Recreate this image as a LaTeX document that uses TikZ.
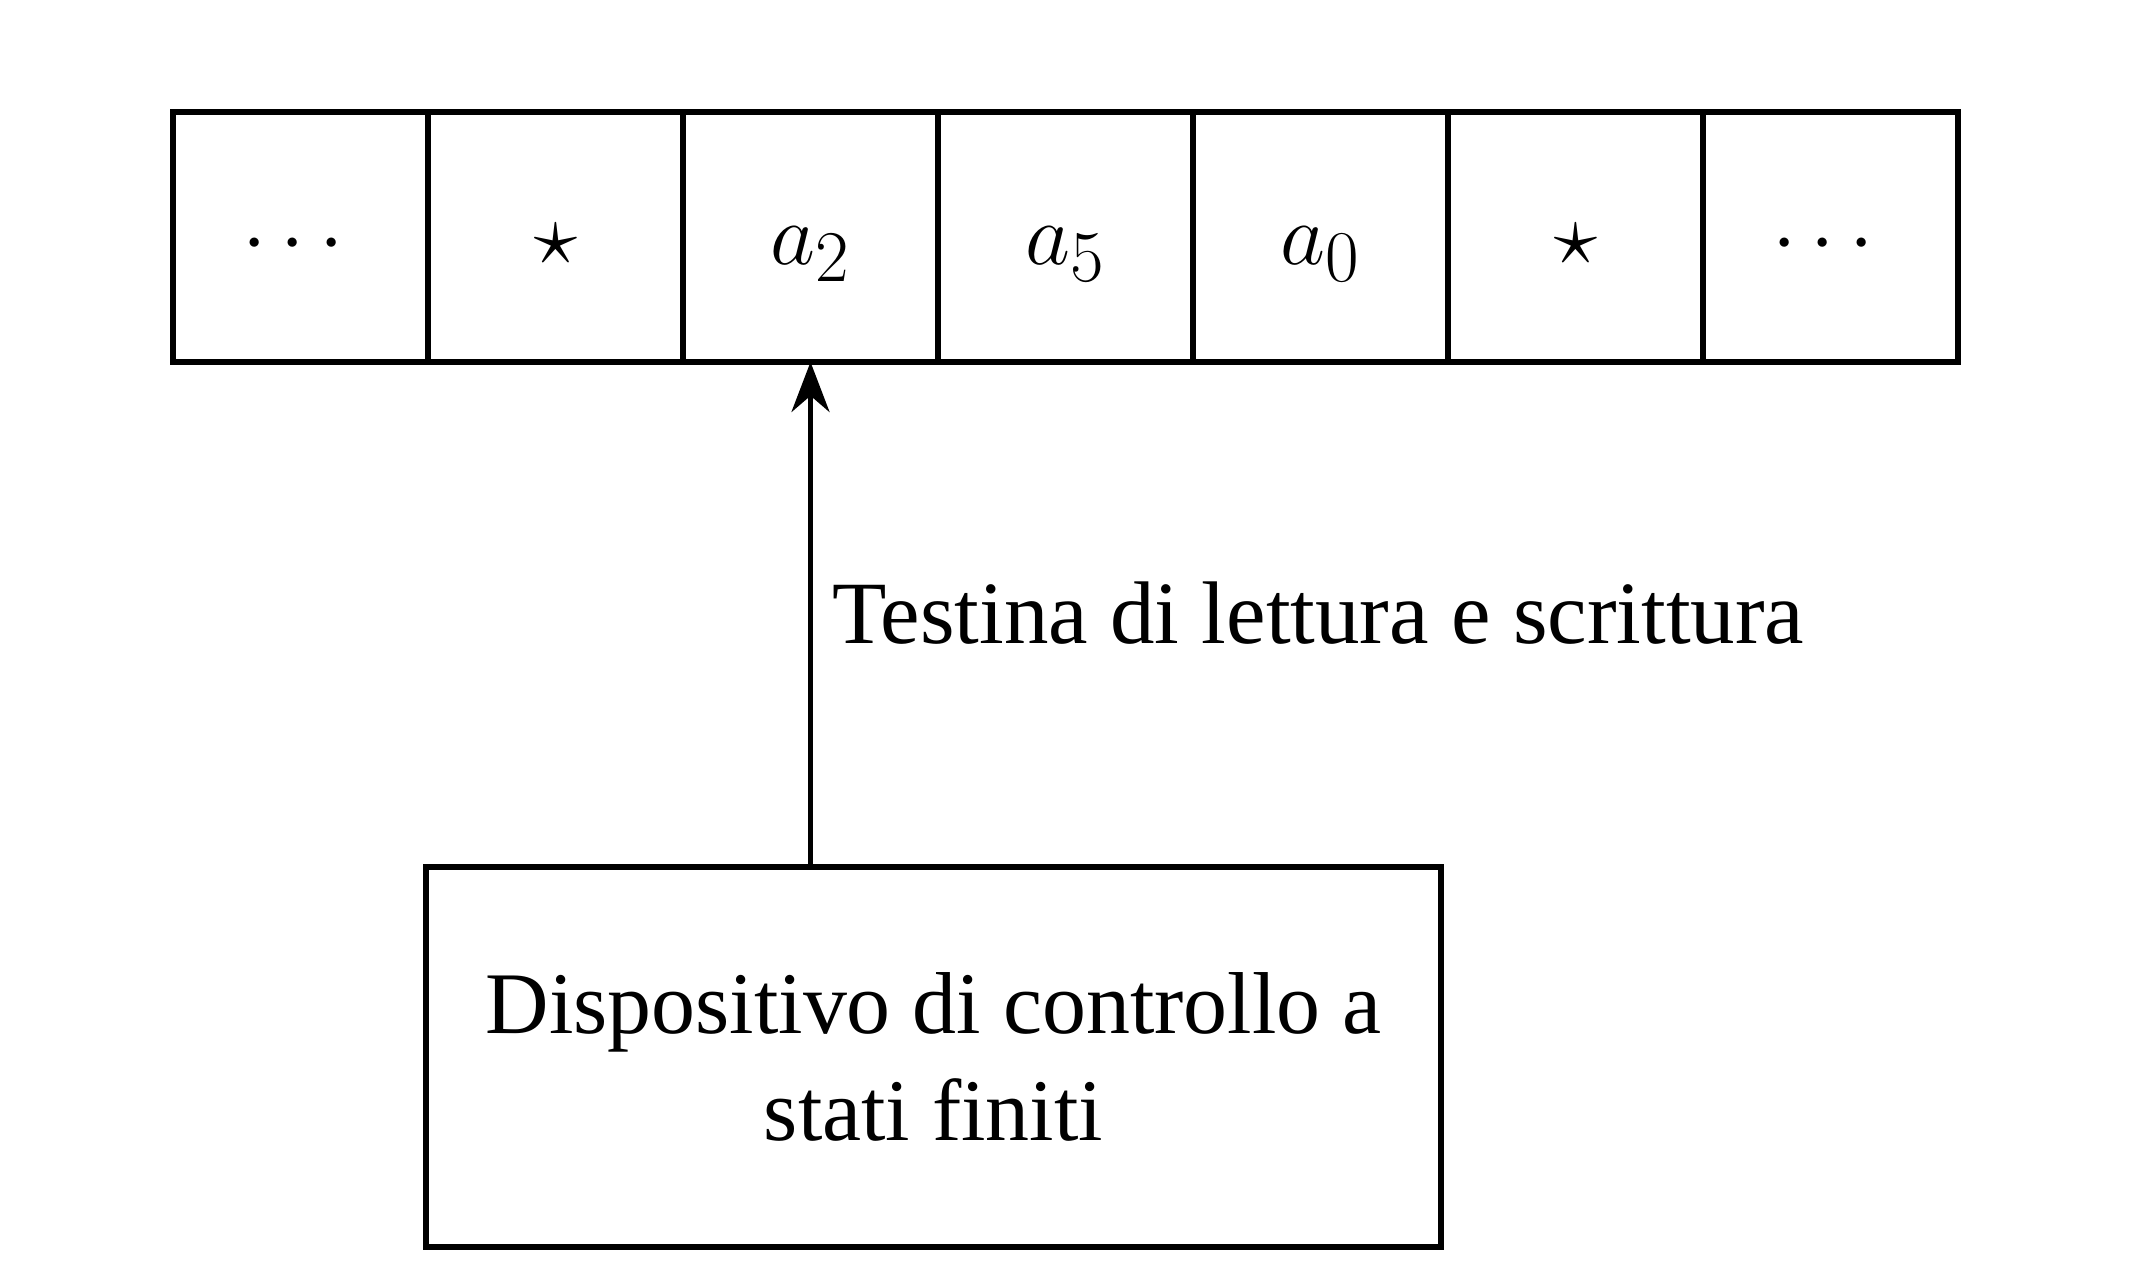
\documentclass[tikz,border=0pt]{standalone}
\usepackage[no-math]{fontspec}
\setmainfont{Liberation Serif}
\usepackage{amsmath,amssymb}
\usetikzlibrary{positioning,arrows.meta}

\begin{document}
\begin{tikzpicture}[
    cell/.style={draw, line width=1.6pt, minimum width=2.55cm, minimum height=2.5cm,
        inner sep=0pt, outer sep=0pt, text height=0.55cm, text depth=0cm,
        font=\fontsize{27.5}{30}\selectfont},
    ctrl/.style={draw, line width=1.6pt, minimum width=10.15cm, minimum height=3.8cm,
        align=center, font=\fontsize{25}{30.5}\selectfont},
    head/.style={-{Stealth[length=0.5cm,width=0.38cm]}, line width=1.4pt}
]
    % Bounding box
    \useasboundingbox (0,0) rectangle (21.42,12.78);

    % Tape cells
    \foreach \s [count=\i] in {\cdots, \star, a_2, a_5, a_0, \star, \cdots}
        \node[cell] (c\i) at ({1.73+(\i-0.5)*2.55},10.41) {$\s$};

    % Finite state control
    \node[ctrl] (ctrl) at (9.335,2.21) {Dispositivo di controllo a\\stati finiti};

    % Read/write head
    \draw[head] (ctrl.north -| c3) -- (c3.south)
        node[midway, right=0.08cm, font=\fontsize{25.3}{30}\selectfont] (lbl) {Testina di lettura e scrittura};

\end{tikzpicture}
\end{document}
